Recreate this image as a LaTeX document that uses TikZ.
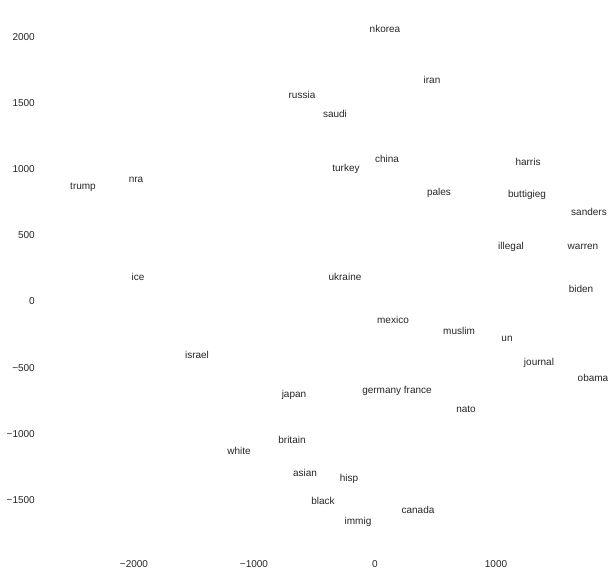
\documentclass[tikz,border=0pt]{standalone}
\usepackage{fontspec}
\setmainfont{Liberation Sans}
\definecolor{txt}{HTML}{262626}
\begin{document}
\begin{tikzpicture}[x=1bp,y=-1bp,
  lbl/.style={text=txt,inner sep=0pt,font=\fontsize{10bp}{12bp}\selectfont},
  ytick/.style={lbl,anchor=east},
  xtick/.style={lbl}]
\useasboundingbox[fill=white] (0,0) rectangle (616,577);
% y ticks
\node[ytick] (y2000) at (35,37) {2000};
\node[ytick] (y1500) at (35,103) {1500};
\node[ytick] (y1000) at (35,169) {1000};
\node[ytick] (y500) at (35,235) {500};
\node[ytick] (y0) at (35,301) {0};
\node[ytick] (ym500) at (35,368) {−500};
\node[ytick] (ym1000) at (35,434) {−1000};
\node[ytick] (ym1500) at (35,500) {−1500};
% x ticks
\node[xtick] (xm2000) at (134,564) {−2000};
\node[xtick] (xm1000) at (254,564) {−1000};
\node[xtick] (x0) at (375,564) {0};
\node[xtick] (x1000) at (496,564) {1000};
% words
\node[lbl] (nkorea) at (385,29) {nkorea};
\node[lbl] (iran) at (432,80) {iran};
\node[lbl] (russia) at (302,95) {russia};
\node[lbl] (saudi) at (335,114) {saudi};
\node[lbl] (china) at (387,159) {china};
\node[lbl] (turkey) at (346,169) {turkey};
\node[lbl] (harris) at (528,162) {harris};
\node[lbl] (pales) at (439,193) {pales};
\node[lbl] (buttigieg) at (527,195) {buttigieg};
\node[lbl] (sanders) at (589,212) {sanders};
\node[lbl] (trump) at (83,187) {trump};
\node[lbl] (nra) at (136,180) {nra};
\node[lbl] (illegal) at (511,247) {illegal};
\node[lbl] (warren) at (583,247) {warren};
\node[lbl] (ice) at (138,277) {ice};
\node[lbl] (ukraine) at (345,277) {ukraine};
\node[lbl] (biden) at (581,289) {biden};
\node[lbl] (mexico) at (393,320) {mexico};
\node[lbl] (muslim) at (459,331) {muslim};
\node[lbl] (un) at (507,339) {un};
\node[lbl] (israel) at (197,355) {israel};
\node[lbl] (journal) at (539,363) {journal};
\node[lbl] (obama) at (593,378) {obama};
\node[lbl] (germanyfrance) at (397,391) {germany france};
\node[lbl] (japan) at (294,395) {japan};
\node[lbl] (nato) at (466,409) {nato};
\node[lbl] (britain) at (292,440) {britain};
\node[lbl] (white) at (239,451) {white};
\node[lbl] (asian) at (305,473) {asian};
\node[lbl] (hisp) at (349,479) {hisp};
\node[lbl] (black) at (323,501) {black};
\node[lbl] (canada) at (418,510) {canada};
\node[lbl] (immig) at (358,522) {immig};
\end{tikzpicture}
\end{document}
